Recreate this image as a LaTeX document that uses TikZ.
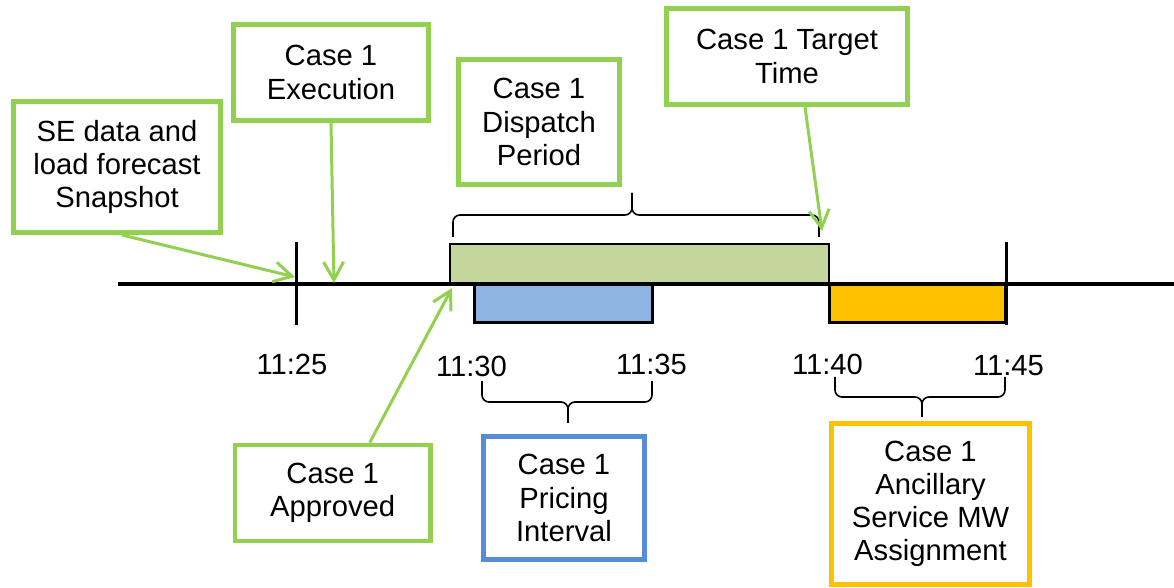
\documentclass[tikz,border=0pt]{standalone}
\usepackage{fontspec}
\setmainfont{Liberation Sans}
\usetikzlibrary{arrows.meta}

\definecolor{casegreen}{HTML}{92D050}
\definecolor{dispfill}{HTML}{C3D69B}
\definecolor{pricefill}{HTML}{8EB4E3}
\definecolor{priceblue}{HTML}{558ED5}
\definecolor{ancorange}{HTML}{FFC000}

\begin{document}
\begin{tikzpicture}[
  x=0.5pt, y=-0.5pt,
  font=\fontsize{14.6}{16.6}\selectfont,
  box/.style={draw, line width=2.3pt, align=center, inner sep=2pt, fill=white},
  greenbox/.style={box, draw=casegreen},
  bar/.style={draw=black, inner sep=0pt},
  timelbl/.style={inner sep=0pt},
  arrow/.style={-{Straight Barb[length=9pt,width=10pt]}, line width=1.5pt, casegreen},
  curly/.style={rounded corners=3.5pt, line width=0.8pt},
]
\useasboundingbox (0,0) rectangle (1174,588);

% ===== Time line with bars =====
\draw[line width=2pt] (118,284) -- (1174,284);
\draw[line width=1.5pt] (296,242) -- (296,325);

\node[bar, fill=dispfill, line width=1.1pt, minimum width=189.5pt, minimum height=19.5pt] (dispbar) at (639.5,263.5) {};
\node[bar, fill=pricefill, line width=1.5pt, minimum width=89pt, minimum height=19pt] (pricebar) at (563,304) {};
\node[bar, fill=ancorange, line width=1.5pt, minimum width=88pt, minimum height=19pt] (ancbar) at (917.7,304) {};
\draw[line width=1.5pt] (1006.5,242) -- (1006.5,325);

% time stamps
\node[timelbl] (t25) at (292,364) {11:25};
\node[timelbl] (t30) at (471.5,366) {11:30};
\node[timelbl] (t35) at (651.5,364) {11:35};
\node[timelbl] (t40) at (827.5,364) {11:40};
\node[timelbl] (t45) at (1008.5,366) {11:45};

% ===== Braces (two halves meeting at the tip) =====
\coordinate (dispL) at (453,237);
\coordinate (dispR) at (819,237);
\coordinate (dispM) at (632,215);
\coordinate (dispTip) at (632,193);
\draw[curly] (dispL) |- (dispM) -- (dispTip);
\draw[curly] (dispR) |- (dispM) -- (dispTip);

\coordinate (priceL) at (482,381);
\coordinate (priceR) at (652,381);
\coordinate (priceM) at (568,402);
\coordinate (priceTip) at (568,423);
\draw[curly] (priceL) |- (priceM) -- (priceTip);
\draw[curly] (priceR) |- (priceM) -- (priceTip);

\coordinate (ancL) at (835,377);
\coordinate (ancR) at (1005,377);
\coordinate (ancM) at (922,397);
\coordinate (ancTip) at (922,417);
\draw[curly] (ancL) |- (ancM) -- (ancTip);
\draw[curly] (ancR) |- (ancM) -- (ancTip);

% ===== Call-out boxes =====
\node[greenbox, minimum width=103.5pt, minimum height=65.7pt] (snap) at (117,167) {SE data and\\load forecast\\Snapshot};
\node[greenbox, minimum width=97.7pt, minimum height=48.2pt] (exec) at (331,72.5) {Case 1\\Execution};
\node[greenbox, minimum width=80.5pt, minimum height=62.7pt] (disp) at (539,122) {Case 1\\Dispatch\\Period};
\node[greenbox, minimum width=120.7pt, minimum height=48.2pt] (target) at (787,56.5) {Case 1 Target\\Time};
\node[greenbox, minimum width=97.7pt, minimum height=48pt] (appr) at (332.7,493) {Case 1\\Approved};
\node[box, draw=priceblue, minimum width=80.5pt, minimum height=61.5pt] (price) at (564,498) {Case 1\\Pricing\\Interval};
\node[box, draw=ancorange, minimum width=99.2pt, minimum height=80.7pt] (anc) at (930.5,504) {Case 1\\Ancillary\\Service MW\\Assignment};

% ===== Pointers onto the time line =====
\coordinate (snapT) at (295,277);
\coordinate (execT) at (334,283);
\coordinate (apprT) at (452,288);
\coordinate (targetT) at (822,231);
\draw[arrow] ([xshift=2.5pt]snap.south) -- (snapT);
\draw[arrow] (exec.south) -- (execT);
\draw[arrow] ([xshift=18.5pt]appr.north) -- (apprT);
\draw[arrow] ([xshift=9pt]target.south) -- (targetT);

\end{tikzpicture}
\end{document}
